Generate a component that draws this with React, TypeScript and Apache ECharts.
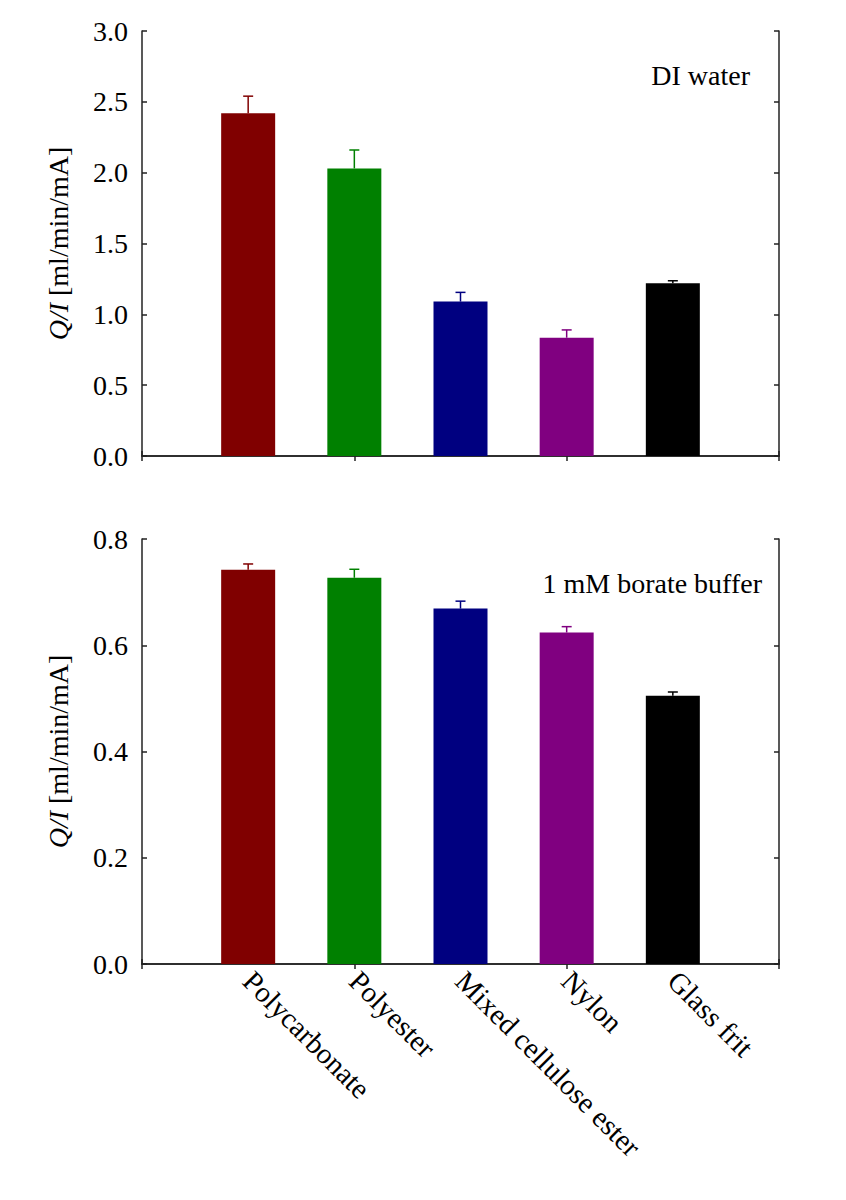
import React, { useEffect, useRef } from "react";
import * as echarts from "echarts";

const categories = ["Polycarbonate", "Polyester", "Mixed cellulose ester", "Nylon", "Glass frit"];
const barColors = ["#800000", "#008000", "#000080", "#800080", "#000000"];
const diWater = [2.42, 2.03, 1.09, 0.835, 1.22];
const diWaterErr = [0.12, 0.13, 0.065, 0.055, 0.017];
const borate = [0.742, 0.727, 0.669, 0.624, 0.505];
const borateErr = [0.011, 0.016, 0.014, 0.011, 0.007];
const topAxis = { min: 0, max: 3, interval: 0.5 };
const bottomAxis = { min: 0, max: 0.8, interval: 0.2 };
const panelLabels = ["DI water", "1 mM borate buffer"];

const FONT = "'Liberation Serif', 'Times New Roman', serif";
const FS = 28;
const AXIS_COLOR = "#222";

export default function App() {
  const ref = useRef<HTMLDivElement>(null);

  useEffect(() => {
    document.body.style.margin = "0";
    if (!ref.current) return;
    const chart = echarts.init(ref.current, null, { renderer: "svg" });

    const axisData = ["", ...categories, ""];
    const lineStyle = { color: AXIS_COLOR, width: 1.5 };

    const grids = [
      { left: 142, top: 31, width: 637, height: 425 },
      { left: 142, top: 539, width: 637, height: 425 },
    ];

    const xAxes: any[] = [];
    const yAxes: any[] = [];
    [0, 1].forEach((g) => {
      xAxes.push({
        type: "category",
        gridIndex: g,
        data: axisData,
        boundaryGap: false,
        position: "bottom",
        axisLine: { lineStyle },
        axisTick: { inside: true, length: 5, lineStyle },
        axisLabel: {
          show: g === 1,
          rotate: -45,
          margin: 12,
          fontFamily: FONT,
          fontSize: 29,
          color: "#000",
        },
        splitLine: { show: false },
      });
      xAxes.push({
        type: "category",
        gridIndex: g,
        data: axisData,
        boundaryGap: false,
        position: "top",
        axisLine: { lineStyle },
        axisTick: { inside: true, length: 5, lineStyle },
        axisLabel: { show: false },
        splitLine: { show: false },
      });
      const ax = g === 0 ? topAxis : bottomAxis;
      yAxes.push({
        type: "value",
        gridIndex: g,
        min: ax.min,
        max: ax.max,
        interval: ax.interval,
        position: "left",
        name: "{i|Q/I} [ml/min/mA]",
        nameLocation: "middle",
        nameGap: 70,
        nameTextStyle: {
          fontFamily: FONT,
          fontSize: FS,
          color: "#000",
          rich: {
            i: { fontFamily: FONT, fontSize: FS, fontStyle: "italic", color: "#000" },
          },
        },
        axisLine: { show: true, lineStyle },
        axisTick: { show: true, inside: true, length: 5, lineStyle },
        axisLabel: {
          margin: 14,
          fontFamily: FONT,
          fontSize: FS,
          color: "#000",
          formatter: (v: number) => v.toFixed(1),
        },
        splitLine: { show: false },
      });
      yAxes.push({
        type: "value",
        gridIndex: g,
        min: ax.min,
        max: ax.max,
        interval: ax.interval,
        position: "right",
        axisLine: { show: true, lineStyle },
        axisTick: { show: true, inside: true, length: 5, lineStyle },
        axisLabel: { show: false },
        splitLine: { show: false },
      });
    });

    const barData = (vals: number[]) => [
      "-",
      ...vals.map((v, i) => ({ value: v, itemStyle: { color: barColors[i] } })),
      "-",
    ];

    const errData = (vals: number[], errs: number[]) =>
      vals.map((v, i) => [i + 1, v, v + errs[i], i]);

    const errRender = (params: any, api: any) => {
      const x = api.value(0);
      const base = api.coord([x, api.value(1)]);
      const top = api.coord([x, api.value(2)]);
      const color = barColors[api.value(3)];
      const half = 5;
      const style = { stroke: color, lineWidth: 1.5 };
      return {
        type: "group",
        children: [
          { type: "line", shape: { x1: base[0], y1: base[1], x2: top[0], y2: top[1] }, style },
          { type: "line", shape: { x1: top[0] - half, y1: top[1], x2: top[0] + half, y2: top[1] }, style },
        ],
      };
    };

    const series: any[] = [
      { type: "bar", xAxisIndex: 0, yAxisIndex: 0, barWidth: 54, data: barData(diWater) },
      {
        type: "custom",
        xAxisIndex: 0,
        yAxisIndex: 0,
        renderItem: errRender,
        data: errData(diWater, diWaterErr),
        z: 3,
      },
      { type: "bar", xAxisIndex: 2, yAxisIndex: 2, barWidth: 54, data: barData(borate) },
      {
        type: "custom",
        xAxisIndex: 2,
        yAxisIndex: 2,
        renderItem: errRender,
        data: errData(borate, borateErr),
        z: 3,
      },
    ];

    chart.setOption({
      animation: false,
      backgroundColor: "#fff",
      grid: grids,
      xAxis: xAxes,
      yAxis: yAxes,
      series,
      graphic: [
        {
          type: "text",
          right: 846 - 750,
          top: 61,
          style: { text: panelLabels[0], fontFamily: FONT, fontSize: FS, fill: "#000" },
        },
        {
          type: "text",
          right: 846 - 762,
          top: 569,
          style: { text: panelLabels[1], fontFamily: FONT, fontSize: FS, fill: "#000" },
        },
      ],
    });

    return () => chart.dispose();
  }, []);

  return <div ref={ref} style={{ width: 846, height: 1200 }} />;
}
